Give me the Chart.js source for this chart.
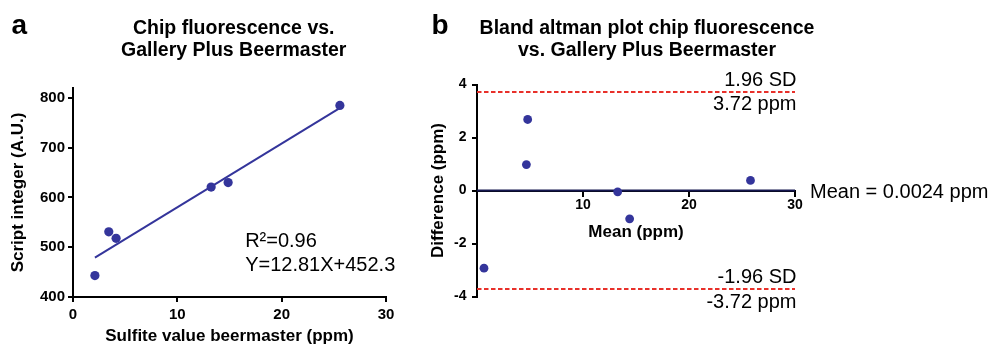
<!DOCTYPE html>
<html><head><meta charset="utf-8">
<script src="https://cdn.jsdelivr.net/npm/chart.js@4"></script>
<style>
html,body{margin:0;padding:0;background:#fff;}
#wrap{position:relative;width:991px;height:345px;overflow:hidden;background:#fff;}
canvas{position:absolute;top:0;}
#ca{left:0;} #cb{left:420px;}
</style></head><body>
<div id="wrap"><canvas id="ca" width="420" height="345"></canvas><canvas id="cb" width="571" height="345"></canvas></div>
<script>
const FONT = '"Liberation Sans", Arial, Helvetica, sans-serif';
const NAVY = '#34359b';
const RED = '#e8302a';

// ---- Panel a: chip fluorescence vs. Gallery Plus Beermaster ----
const sulfiteBeermaster = [2.1, 3.43, 4.13, 13.24, 14.87, 25.58];
const scriptInteger = [443, 531, 518, 621, 630, 785];
const fitLineX = [2.1, 25.6];
const fitLineY = [479, 780];
const fitStats = ['R\u00B2=0.96', 'Y=12.81X+452.3'];
const xTicksA = [0, 10, 20, 30];
const yTicksA = [400, 500, 600, 700, 800];

// ---- Panel b: Bland-Altman ----
const meanPpm = [0.66, 4.66, 4.78, 13.27, 14.4, 25.8];
const diffPpm = [-2.93, 0.98, 2.68, -0.05, -1.07, 0.38];
const biasMean = 0.0024;
const limitsOfAgreement = [3.72, -3.72];
const limitLabels = ['1.96 SD', '-1.96 SD'];
const limitSpan = [0, 30];
const xTicksB = [10, 20, 30];
const yTicksB = [-4, -2, 0, 2, 4];

const tickSet = arr => scale => { scale.ticks = arr.map(v => ({ value: v })); };

function txt(ctx, s, x, y, font, align) {
  ctx.save();
  ctx.font = font; ctx.fillStyle = '#000';
  ctx.textAlign = align || 'left'; ctx.textBaseline = 'alphabetic';
  ctx.fillText(s, x, y);
  ctx.restore();
}

function axisOpts(extra) {
  return Object.assign({
    type: 'linear',
    grid: { drawOnChartArea: false, drawTicks: true, tickLength: 5, color: '#000', lineWidth: 2 },
    border: { display: true, color: '#000', width: 2 },
  }, extra);
}

const decorA = {
  id: 'decorA',
  afterDraw(chart) {
    const { ctx, scales: { x, y } } = chart;
    txt(ctx, 'a', 11.5, 34, `bold 28px ${FONT}`);
    txt(ctx, 'Chip fluorescence vs.', 233.7, 33.5, `bold 19.5px ${FONT}`, 'center');
    txt(ctx, 'Gallery Plus Beermaster', 233.7, 56, `bold 19.5px ${FONT}`, 'center');
    const ax = x.getPixelForValue(16.5), ay = y.getPixelForValue(500);
    txt(ctx, fitStats[0], ax, ay, `20px ${FONT}`);
    txt(ctx, fitStats[1], ax, ay + 23.7, `20px ${FONT}`);
  }
};

new Chart(document.getElementById('ca'), {
  type: 'scatter',
  data: {
    datasets: [
      { data: sulfiteBeermaster.map((v, i) => ({ x: v, y: scriptInteger[i] })),
        backgroundColor: NAVY, borderColor: NAVY, pointRadius: 4.6, pointBorderWidth: 0, showLine: false },
      { type: 'line', data: fitLineX.map((v, i) => ({ x: v, y: fitLineY[i] })),
        borderColor: NAVY, borderWidth: 2, pointRadius: 0, fill: false, tension: 0 }
    ]
  },
  options: {
    responsive: false, animation: false, devicePixelRatio: 1,
    layout: { padding: { top: 88, right: 34, bottom: 0, left: 0 } },
    plugins: { legend: { display: false }, tooltip: { enabled: false }, title: { display: false } },
    scales: {
      x: axisOpts({
        min: 0, max: 30,
        afterBuildTicks: tickSet(xTicksA),
        afterFit: s => { s.height = 48; },
        ticks: { color: '#000', font: { family: FONT, size: 15, weight: 'bold' }, padding: 4, maxRotation: 0, autoSkip: false },
        title: { display: true, text: 'Sulfite value beermaster (ppm)', color: '#000',
                 font: { family: FONT, size: 17, weight: 'bold', lineHeight: 1 }, padding: { top: 0, bottom: 0 } }
      }),
      y: axisOpts({
        min: 400, max: 820,
        afterBuildTicks: tickSet(yTicksA),
        afterFit: s => { s.width = 73; },
        ticks: { color: '#000', font: { family: FONT, size: 15, weight: 'bold' }, padding: 3, autoSkip: false },
        title: { display: true, text: 'Script integer (A.U.)', color: '#000',
                 font: { family: FONT, size: 17, weight: 'bold', lineHeight: 1 }, padding: { top: 10, bottom: 0 } }
      })
    }
  },
  plugins: [decorA]
});

const decorB = {
  id: 'decorB',
  afterDraw(chart) {
    const { ctx, scales: { x, y } } = chart;
    txt(ctx, 'b', 11.5, 33.5, `bold 28px ${FONT}`);
    txt(ctx, 'Bland altman plot chip fluorescence', 227, 33.5, `bold 19.5px ${FONT}`, 'center');
    txt(ctx, 'vs. Gallery Plus Beermaster', 227, 56, `bold 19.5px ${FONT}`, 'center');
    const rx = x.getPixelForValue(limitSpan[1]) + 1.5;
    const f = `20px ${FONT}`;
    limitsOfAgreement.forEach((v, i) => {
      const py = y.getPixelForValue(v);
      txt(ctx, limitLabels[i], rx, py - 6, f, 'right');
      txt(ctx, v.toFixed(2) + ' ppm', rx, py + 18.5, f, 'right');
    });
    txt(ctx, 'Mean = ' + biasMean + ' ppm', rx + 13.5, y.getPixelForValue(biasMean) + 7.5, f, 'left');
  }
};

new Chart(document.getElementById('cb'), {
  type: 'scatter',
  data: {
    datasets: [
      { data: meanPpm.map((v, i) => ({ x: v, y: diffPpm[i] })),
        backgroundColor: NAVY, borderColor: NAVY, pointRadius: 4.4, pointBorderWidth: 0, showLine: false },
      { type: 'line', data: limitSpan.map(v => ({ x: v, y: biasMean })),
        borderColor: '#14164f', borderWidth: 2, pointRadius: 0, fill: false },
      { type: 'line', data: limitSpan.map(v => ({ x: v, y: limitsOfAgreement[0] })),
        borderColor: RED, borderWidth: 2, borderDash: [4.5, 2.5], pointRadius: 0, fill: false },
      { type: 'line', data: limitSpan.map(v => ({ x: v, y: limitsOfAgreement[1] })),
        borderColor: RED, borderWidth: 2, borderDash: [4.5, 2.5], pointRadius: 0, fill: false }
    ]
  },
  options: {
    responsive: false, animation: false, devicePixelRatio: 1,
    layout: { padding: { top: 84.5, right: 196, bottom: 48.5, left: 0 } },
    plugins: { legend: { display: false }, tooltip: { enabled: false }, title: { display: false } },
    scales: {
      x: axisOpts({
        min: 0, max: 30, position: { y: 0 },
        afterBuildTicks: tickSet(xTicksB),
        afterFit: s => { s.height = 50.3; },
        ticks: { color: '#000', font: { family: FONT, size: 14, weight: 'bold' }, padding: 1, maxRotation: 0, autoSkip: false },
        title: { display: true, text: 'Mean (ppm)', color: '#000',
                 font: { family: FONT, size: 17, weight: 'bold', lineHeight: 1 }, padding: { top: 0, bottom: 0 } }
      }),
      y: axisOpts({
        min: -4, max: 4,
        afterBuildTicks: tickSet(yTicksB),
        afterFit: s => { s.width = 57; },
        ticks: { color: '#000', font: { family: FONT, size: 14, weight: 'bold' }, padding: 5.5, autoSkip: false },
        title: { display: true, text: 'Difference (ppm)', color: '#000',
                 font: { family: FONT, size: 17, weight: 'bold', lineHeight: 1 }, padding: { top: 10, bottom: 0 } }
      })
    }
  },
  plugins: [decorB]
});
</script>
</body></html>
